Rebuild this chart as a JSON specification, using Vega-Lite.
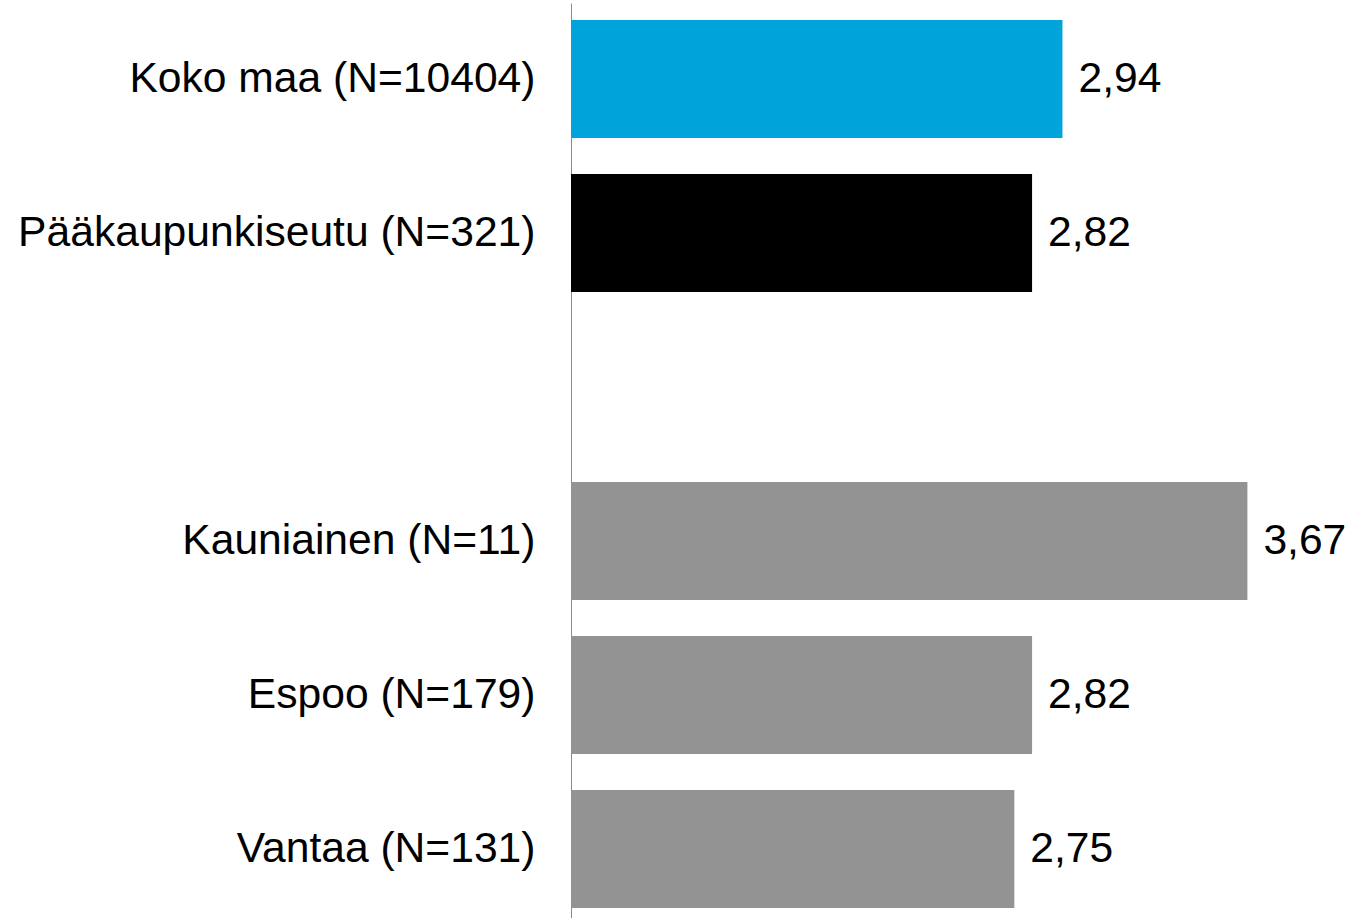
{
  "$schema": "https://vega.github.io/schema/vega-lite/v6.json",
  "width": 760,
  "height": 915,
  "autosize": {"type": "none"},
  "padding": {"left": 571, "top": 3, "right": 20, "bottom": 0},
  "background": "white",
  "config": {
    "view": {"stroke": null},
    "font": "Liberation Sans",
    "locale": {"number": {"decimal": ",", "thousands": " ", "grouping": [3], "currency": ["", " €"]}}
  },
  "data": {
    "values": [
      {"label": "Koko maa (N=10404)", "group": "Koko maa", "value": 2.94},
      {"label": "Pääkaupunkiseutu (N=321)", "group": "Pääkaupunkiseutu", "value": 2.82},
      {"label": "Kauniainen (N=11)", "group": "Kunta", "value": 3.67},
      {"label": "Espoo (N=179)", "group": "Kunta", "value": 2.82},
      {"label": "Vantaa (N=131)", "group": "Kunta", "value": 2.75}
    ]
  },
  "encoding": {
    "y": {
      "field": "label",
      "type": "nominal",
      "sort": null,
      "scale": {
        "domain": ["Koko maa (N=10404)", "Pääkaupunkiseutu (N=321)", " ", "Kauniainen (N=11)", "Espoo (N=179)", "Vantaa (N=131)"],
        "paddingInner": 0.234,
        "paddingOuter": 0.088,
        "align": 0.63
      },
      "axis": {
        "title": null,
        "ticks": false,
        "labelFontSize": 42.6,
        "labelColor": "#000000",
        "labelPadding": 36,
        "labelFont": "Liberation Sans",
        "domainColor": "#8c8c8c",
        "domainWidth": 1,
        "labelLimit": 600
      }
    },
    "x": {
      "field": "value",
      "type": "quantitative",
      "scale": {"domain": [1, 4], "zero": false, "nice": false},
      "axis": null
    }
  },
  "layer": [
    {
      "mark": {"type": "bar"},
      "encoding": {
        "x2": {"datum": 1},
        "color": {
          "field": "group",
          "type": "nominal",
          "scale": {"domain": ["Koko maa", "Pääkaupunkiseutu", "Kunta"], "range": ["#00a3da", "#000000", "#939393"]},
          "legend": null
        }
      }
    },
    {
      "mark": {"type": "text", "align": "left", "baseline": "middle", "dx": 16, "fontSize": 42.6, "color": "#000000", "font": "Liberation Sans"},
      "encoding": {
        "text": {"field": "value", "type": "quantitative", "format": ".2f"}
      }
    }
  ]
}
